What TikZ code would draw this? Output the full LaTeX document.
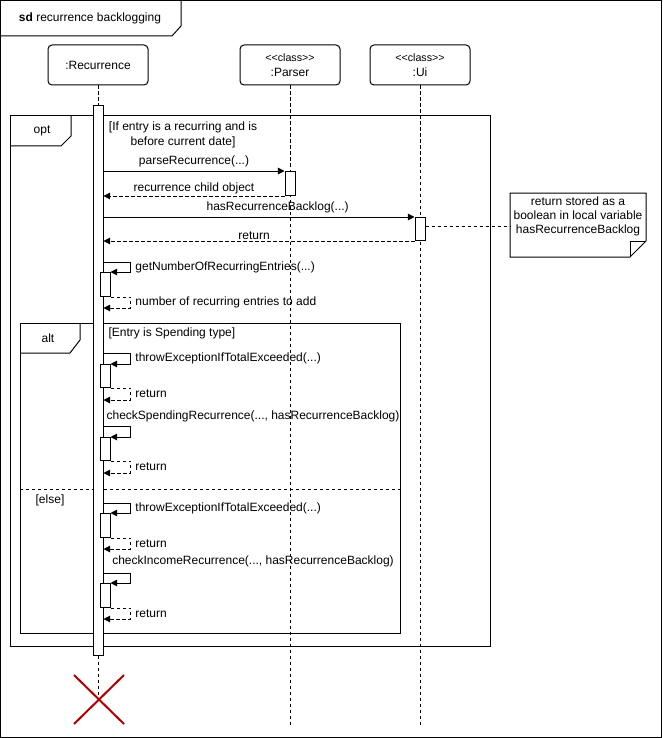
\documentclass[tikz,border=0pt]{standalone}
\usepackage{fontspec}
\setmainfont{Liberation Sans}[Ligatures=TeXOff]
\usetikzlibrary{arrows.meta,positioning}
\definecolor{xred}{RGB}{178,0,0}
\tikzset{
    head/.style = {draw, rounded corners = 3pt, minimum width = 75pt, minimum height = 30pt, align = center, inner sep = 1pt},
    act/.style = {draw, fill = white, minimum width = 7.5pt, inner sep = 0pt, anchor = north},
    msg/.style = {-{Triangle[length = 5pt, width = 5pt]}},
    ret/.style = {msg, dash pattern = on 2.5pt off 2pt},
    life/.style = {dash pattern = on 2.5pt off 2pt},
}
\begin{document}
\begin{tikzpicture}[x = 0.75pt, y = -0.75pt, line width = 0.75pt, font = \fontsize{9}{11}\selectfont]
        \useasboundingbox (0,0) rectangle (662,738);
        % outer frame
        \draw (0.5,0.5) rectangle (661,737);
        \draw (0.5,36) -- (172,36) -- (181,26) -- (181,0.5);
        \node (title) at (90,18) {\textbf{sd} recurrence backlogging};
        % combined fragments
        \draw (10,116) rectangle (490,646);
        \draw (10,146) -- (61,146) -- (71,136) -- (71,116);
        \node (optTab) at (42,131) {opt};
        \node[align = center, font = \fontsize{9}{11.25}\selectfont] (optGuard) at (183,134.5) {[If entry is a recurring and is\\before current date]};
        \draw (20,323) rectangle (400,633);
        \draw (20,353) -- (70,353) -- (80,340) -- (80,323);
        \node (altTab) at (48,338) {alt};
        \node[anchor = west, inner sep = 0pt] (altGuard) at (108,333) {[Entry is Spending type]};
        \draw[life] (20,489) -- (400,489);
        \node (elseGuard) at (50,500) {[else]};
        % lifelines
        \node[head] (rec) at (98,65) {:Recurrence};
        \node[head] (par) at (290,65) {{\fontsize{8}{9}\selectfont <<class>>}\\:Parser};
        \node[head] (ui) at (420,65) {{\fontsize{8}{9}\selectfont <<class>>}\\:Ui};
        \coordinate (recEnd) at (98,700);
        \coordinate (parEnd) at (290,725);
        \coordinate (uiEnd) at (420,725);
        \draw[life] (rec.south) -- (recEnd);
        \draw[life] (par.south) -- (parEnd);
        \draw[life] (ui.south) -- (uiEnd);
        % activations
        \node[act, minimum height = 412.5pt] (mainA) at (98,105) {};
        \node[act, minimum height = 18pt] (pA) at (290,171) {};
        \node[act, minimum height = 17.25pt] (uA) at (420,217) {};
        \node[act, minimum height = 18pt] (gA) at (105,272) {};
        \node[act, minimum height = 17.25pt] (t1A) at (105,364) {};
        \node[act, minimum height = 17.25pt] (sA) at (105,437) {};
        \node[act, minimum height = 18pt] (t2A) at (105,513) {};
        \node[act, minimum height = 18pt] (iA) at (105,583) {};
        % messages
        \begin{scope}[every node/.append style = {inner sep = 1pt}]
            \draw[msg] (mainA.east |- pA.north) -- node[above, inner sep = 2.5pt] (lParse) {parseRecurrence(...)} (pA.north west);
            \draw[ret] (pA.south west) -- node[above] (lChild) {recurrence child object} (mainA.east |- pA.south);
            \draw[msg] (mainA.east |- uA.north) -- node[above, pos = 0.56, inner sep = 2.5pt] (lBacklog) {hasRecurrenceBacklog(...)} (uA.north west);
            \draw[ret] (uA.south west) -- node[above, pos = 0.516] (lReturn) {return} (mainA.east |- uA.south);
        \end{scope}
        % self calls
        \draw[msg] (mainA.east |- gA.north) ++(0,-10) -- ++(27,0) -- node[right] (lGetNum) {getNumberOfRecurringEntries(...)} ++(0,10) -- (gA.north east);
        \draw[ret] (gA.south east) -- ++(20,0) -- node[right] (lGetNumRet) {number of recurring entries to add} ++(0,11) -- ++(-27,0);
        \draw[msg] (mainA.east |- t1A.north) ++(0,-11) -- ++(27,0) -- node[right] (lThrowA) {throwExceptionIfTotalExceeded(...)} ++(0,11) -- (t1A.north east);
        \draw[ret] (t1A.south east) -- ++(20,0) -- node[right] (lThrowARet) {return} ++(0,12) -- ++(-27,0);
        \node (lSpending) at (253,416) {checkSpendingRecurrence(..., hasRecurrenceBacklog)};
        \draw[msg] (mainA.east |- sA.north) ++(0,-11) -- ++(27,0) -- ++(0,11) -- (sA.north east);
        \draw[ret] (sA.south east) -- ++(20,0) -- node[right] (lSpendingRet) {return} ++(0,12) -- ++(-27,0);
        \draw[msg] (mainA.east |- t2A.north) ++(0,-10) -- ++(27,0) -- node[right] (lThrowB) {throwExceptionIfTotalExceeded(...)} ++(0,10) -- (t2A.north east);
        \draw[ret] (t2A.south east) -- ++(20,0) -- node[right] (lThrowBRet) {return} ++(0,11) -- ++(-27,0);
        \node (lIncome) at (253,561) {checkIncomeRecurrence(..., hasRecurrenceBacklog)};
        \draw[msg] (mainA.east |- iA.north) ++(0,-10) -- ++(27,0) -- ++(0,10) -- (iA.north east);
        \draw[ret] (iA.south east) -- ++(20,0) -- node[right] (lIncomeRet) {return} ++(0,11) -- ++(-27,0);
        % note
        \draw (510,193) -- (646,193) -- (646,241) -- (630,257) -- (510,257) -- cycle;
        \draw (630,257) -- (630,241) -- (646,241);
        \node[align = center, font = \fontsize{9}{10.5}\selectfont] (noteTxt) at (578,216) {return stored as a\\boolean in local variable\\hasRecurrenceBacklog};
        \coordinate (noteIn) at (510,226);
        \draw[life] (uA.east |- noteIn) -- (noteIn);
        % destruction
        \draw[xred, line width = 1.5pt] (74,675) -- (124,724) (74,724) -- (124,675);
    \end{tikzpicture}
\end{document}
